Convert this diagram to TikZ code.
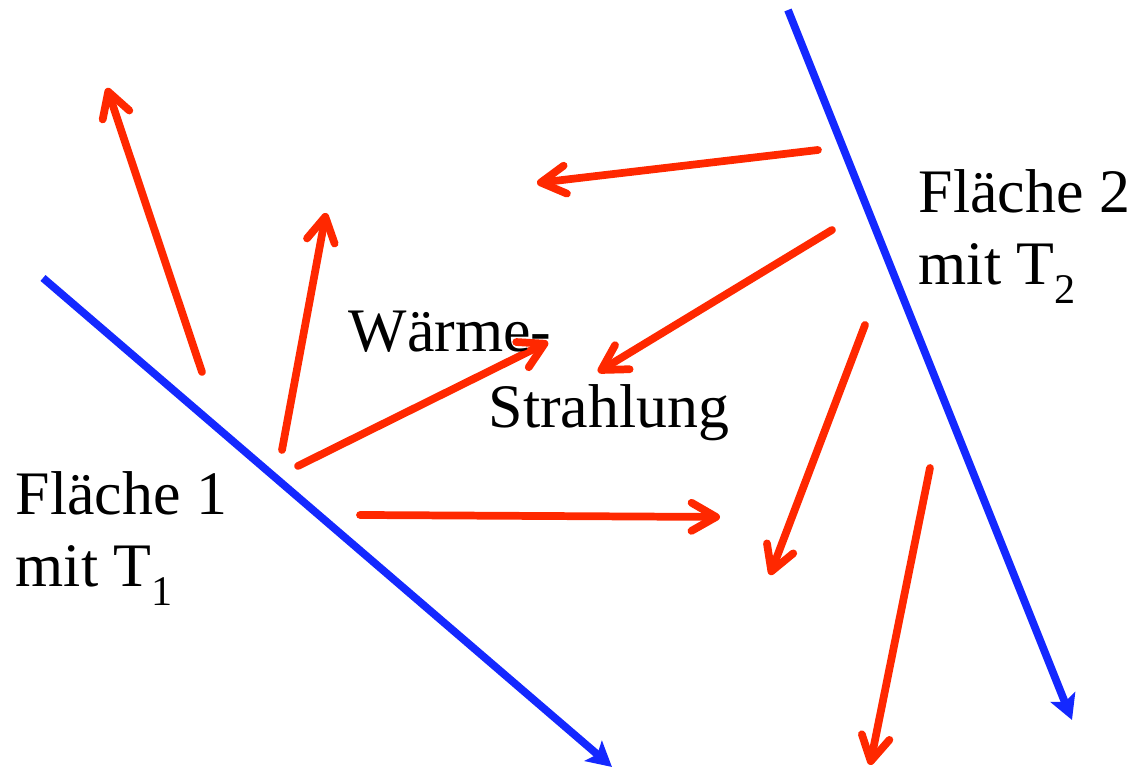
\documentclass[tikz,border=0pt]{standalone}
\usepackage{fontspec}
\setmainfont{Liberation Serif}
\usetikzlibrary{arrows.meta}

\definecolor{rayred}{RGB}{255,40,0}
\definecolor{wallblue}{RGB}{20,40,255}

\tikzstyle{wall}=[wallblue, line width=2.2pt, -{Stealth[length=7pt, width=7.5pt, inset=1.5pt]}]
\tikzstyle{ray}=[rayred, line width=2.2pt, line cap=round, -{Straight Barb[length=7pt, width=8pt, round]}]
\tikzstyle{label}=[anchor=base west, inner sep=0pt, align=left, font=\fontsize{17.6}{20.5}\selectfont]

\newcommand{\subidx}[1]{\raisebox{-0.3em}{\fontsize{12}{12}\selectfont #1}}

\begin{document}
\begin{tikzpicture}[x=0.01cm, y=-0.01cm]
	\useasboundingbox (0,0) rectangle (1135,768);

	% the two surfaces
	\draw[wall] (43,278) -- (612,767);
	\draw[wall] (788,10) -- (1072,720);

	% rays leaving surface 1
	\draw[ray] (202,372) -- (107,88);
	\draw[ray] (282,450) -- (326,213);
	\draw[ray] (298,466) -- (548,342);
	\draw[ray] (360,515) -- (720,517);

	% rays leaving surface 2
	\draw[ray] (818,150) -- (537,183);
	\draw[ray] (832,230) -- (598,372);
	\draw[ray] (865,325) -- (770,575);
	\draw[ray] (930,468) -- (870,765);

	\node[label] (flaeche1) at (15,587) {Fläche 1\\mit T\subidx{1}};
	\node[label] (flaeche2) at (918,285) {Fläche 2\\mit T\subidx{2}};
	\node[label] (waerme) at (348,352) {Wärme-};
	\node[label] (strahlung) at (488,428) {Strahlung};
\end{tikzpicture}
\end{document}
